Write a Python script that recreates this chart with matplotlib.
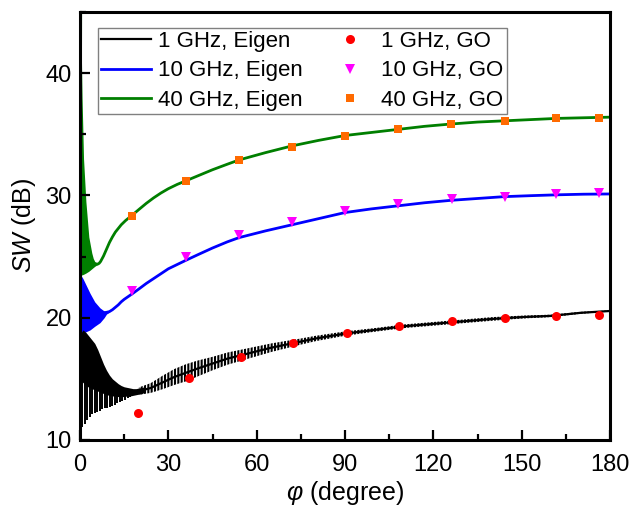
import matplotlib
matplotlib.use("Agg")
import matplotlib.pyplot as plt
import numpy as np

plt.rcParams["font.family"] = ["Liberation Sans", "DejaVu Sans"]
plt.rcParams["mathtext.fontset"] = "custom"
plt.rcParams["mathtext.rm"] = "Liberation Sans"
plt.rcParams["mathtext.it"] = "Liberation Sans:italic"
plt.rcParams["hatch.linewidth"] = 1.5

# ---- 40 GHz eigen solution ----
phi_40_band = [0, 0.3, 0.7, 1.2, 2.0, 3.0, 4.0, 4.5, 5.0, 5.5, 6.0]
sw_40_band_hi = [46, 44, 38, 33, 29.5, 26.6, 25.3, 24.85, 24.6, 24.45, 24.38]
sw_40_band_lo = [23.5, 23.5, 23.5, 23.55, 23.65, 23.8, 24.0, 24.1, 24.2, 24.28, 24.35]
phi_40_line = [5.5, 6.0, 6.5, 7.0, 8.0, 9.0, 10.0, 11.0, 12.0, 13.0, 14.0, 15.5,
               17.8, 20.0, 22.5, 25.0, 27.5, 30.0, 33.0, 36.0, 40.0, 45.0, 50.0,
               54.0, 63.0, 72.0, 81.0, 90.0, 99.0, 108.0, 117.0, 126.0, 135.0,
               144.0, 153.0, 162.0, 171.0, 180.0]
sw_40_line = [24.4, 24.38, 24.45, 24.6, 25.05, 25.6, 26.15, 26.6, 27.0, 27.3,
              27.6, 27.95, 28.4, 28.85, 29.35, 29.8, 30.2, 30.55, 30.9, 31.2,
              31.6, 32.1, 32.55, 32.9, 33.5, 34.05, 34.5, 34.9, 35.15, 35.4,
              35.65, 35.84, 36.0, 36.1, 36.2, 36.3, 36.35, 36.4]

# ---- 10 GHz eigen solution ----
phi_10_band = [0, 1, 2, 3.4, 5, 6.8, 8.2, 9, 10]
sw_10_band_hi = [23.6, 23.2, 22.7, 22.0, 21.3, 20.8, 20.55, 20.5, 20.5]
sw_10_band_lo = [18.7, 18.75, 18.85, 19.0, 19.3, 19.6, 20.0, 20.3, 20.45]
phi_10_line = [8.5, 9.0, 10.0, 11.0, 12.0, 13.0, 14.0, 15.0, 16.5, 18.0, 20.0,
               22.5, 25.0, 27.5, 30.0, 33.0, 36.0, 40.0, 45.0, 50.0, 54.0, 63.0,
               72.0, 81.0, 90.0, 99.0, 108.0, 117.0, 126.0, 135.0, 144.0, 153.0,
               162.0, 171.0, 180.0]
sw_10_line = [20.42, 20.44, 20.5, 20.65, 20.85, 21.05, 21.3, 21.5, 21.75, 22.0,
              22.35, 22.8, 23.2, 23.6, 24.0, 24.35, 24.7, 25.15, 25.7, 26.2, 26.55,
              27.1, 27.6, 28.1, 28.6, 28.9, 29.15, 29.4, 29.6, 29.75, 29.9, 29.98,
              30.05, 30.1, 30.12]

# ---- 1 GHz eigen solution ----
phi_1_dense = [0.2, 1, 2, 3, 4, 5, 6, 7, 8, 9, 10, 11, 12, 13, 14, 15, 16, 17,
               18, 19, 20, 21, 22]
sw_1_dense_hi = [18.7, 19.0, 18.8, 18.5, 18.2, 17.9, 17.4, 16.8, 16.2, 15.7, 15.3,
                 15.0, 14.8, 14.6, 14.45, 14.35, 14.3, 14.25, 14.2, 14.2, 14.25,
                 14.3, 14.35]
sw_1_dense_lo = [14.9, 14.7, 14.5, 14.3, 14.2, 14.1, 14.0, 13.9, 13.8, 13.7, 13.65,
                 13.6, 13.6, 13.55, 13.55, 13.55, 13.6, 13.6, 13.65, 13.7, 13.75,
                 13.8, 13.9]
phi_1_spikes = [0.7, 1.6, 2.5, 3.3, 4.1, 5.0, 5.8, 6.7, 7.6, 8.4, 9.3, 10.1, 11.0,
                11.9, 12.7, 13.6, 14.4, 15.3, 16.2, 17.0]
sw_1_spike_min = [11.1, 11.3, 11.6, 11.9, 12.1, 12.2, 12.3, 12.4, 12.5, 12.6, 12.6,
                  12.7, 12.8, 12.9, 13.0, 13.1, 13.2, 13.3, 13.4, 13.5]
phi_1_line = [20, 24, 28, 32, 36, 40, 45, 50, 55, 60, 65, 70, 75, 80, 90, 100,
              110, 120, 130, 140, 150, 160, 170, 180]
sw_1_line = [14.0, 14.25, 14.7, 15.15, 15.5, 15.85, 16.25, 16.65, 16.95, 17.25,
             17.55, 17.8, 18.05, 18.3, 18.7, 19.0, 19.3, 19.5, 19.7, 19.9, 20.05,
             20.15, 20.4, 20.55]
sw_1_ripple = [0.3, 0.4, 0.55, 0.65, 0.7, 0.65, 0.55, 0.5, 0.45, 0.4, 0.35, 0.3,
               0.25, 0.22, 0.18, 0.15, 0.15, 0.15, 0.15, 0.15, 0.12, 0.1, 0.08,
               0.05]

# ---- geometrical-optics results ----
phi_go_1 = [19.8, 37.0, 54.7, 72.5, 90.6, 108.4, 126.2, 144.4, 161.7, 176.3]
sw_go_1 = [12.18, 15.1, 16.8, 17.9, 18.72, 19.3, 19.7, 20.0, 20.16, 20.2]
phi_go_10 = [17.8, 35.9, 54.0, 71.9, 90.0, 108.0, 126.2, 144.4, 161.7, 176.3]
sw_go_10 = [22.2, 25.0, 26.8, 27.85, 28.75, 29.27, 29.7, 29.9, 30.1, 30.17]
phi_go_40 = [17.8, 35.9, 54.0, 72.0, 90.0, 108.0, 126.0, 144.4, 161.7, 176.3]
sw_go_40 = [28.3, 31.2, 32.9, 34.0, 34.9, 35.4, 35.84, 36.1, 36.3, 36.35]

x_ticks = [0, 30, 60, 90, 120, 150, 180]
y_ticks = [10, 20, 30, 40]

c_black, c_blue, c_green = "black", "#0000ff", "#007f00"
c_red, c_mag, c_orange = "#ff0000", "#ff00ff", "#ff6a00"

fig = plt.figure(figsize=(6.32, 5.09), dpi=100)
ax = fig.add_axes([80 / 632, 1 - 440 / 509, 530 / 632, 428 / 509])

# 40 GHz
ax.fill_between(phi_40_band, sw_40_band_lo, sw_40_band_hi, color=c_green, lw=0)
l40, = ax.plot(phi_40_line, sw_40_line, color=c_green, lw=2.0,
               label="40 GHz, Eigen")
ax.plot([0, 0.25], [23.5, 46], color=c_green, lw=2.0)

# 10 GHz
ax.fill_between(phi_10_band, sw_10_band_lo, sw_10_band_hi, color=c_blue, lw=0)
l10, = ax.plot(phi_10_line, sw_10_line, color=c_blue, lw=2.0,
               label="10 GHz, Eigen")

# 1 GHz
ax.fill_between(phi_1_dense, sw_1_dense_lo, sw_1_dense_hi, color=c_black, lw=0)
ax.vlines(phi_1_spikes, sw_1_spike_min, np.interp(phi_1_spikes, phi_1_dense,
          sw_1_dense_lo) + 0.1, color=c_black, lw=1.4)
line1 = np.array(sw_1_line)
rip = np.array(sw_1_ripple)
ax.fill_between(phi_1_line, line1 - rip, line1 + rip, facecolor="none",
                edgecolor=c_black, hatch="|||||", lw=0)
l1, = ax.plot(phi_1_line, sw_1_line, color=c_black, lw=1.6,
              label="1 GHz, Eigen")

g1, = ax.plot(phi_go_1, sw_go_1, "o", color=c_red, ms=6.5, mew=0,
              label="1 GHz, GO", zorder=5)
g10, = ax.plot(phi_go_10, sw_go_10, "v", color=c_mag, ms=7.5, mew=0,
               label="10 GHz, GO", zorder=5)
g40, = ax.plot(phi_go_40, sw_go_40, "s", color=c_orange, ms=5.5, mew=0,
               label="40 GHz, GO", zorder=5)

ax.set_xlim(0, 180)
ax.set_ylim(10, 45)
ax.set_xticks(x_ticks)
ax.set_yticks(y_ticks)
ax.set_xticks(np.arange(15, 180, 30), minor=True)
ax.set_yticks([15, 25, 35, 45], minor=True)
ax.tick_params(which="both", direction="in", top=False, right=False,
               labelsize=17, width=1.6)
ax.tick_params(axis="x", which="both", pad=10)
ax.tick_params(axis="y", which="both", pad=6)
ax.tick_params(which="major", length=7)
ax.tick_params(which="minor", length=4)
for s in ax.spines.values():
    s.set_linewidth(2.2)

ax.set_xlabel(r"$\mathit{φ}$ (degree)", fontsize=18, labelpad=2)
ax.set_ylabel(r"$\mathit{SW}$ (dB)", fontsize=18, labelpad=5)

leg = ax.legend(handles=[l1, l10, l40, g1, g10, g40], ncol=2,
                loc="upper left", bbox_to_anchor=(0.0334, 0.9633),
                fontsize=16, frameon=True, fancybox=False,
                edgecolor="#808080", framealpha=1, borderpad=0.15,
                labelspacing=0.38, handlelength=2.25, handletextpad=0.3,
                columnspacing=1.0, borderaxespad=0)
leg.get_frame().set_linewidth(1.0)

fig.savefig("out.png", dpi=100)
